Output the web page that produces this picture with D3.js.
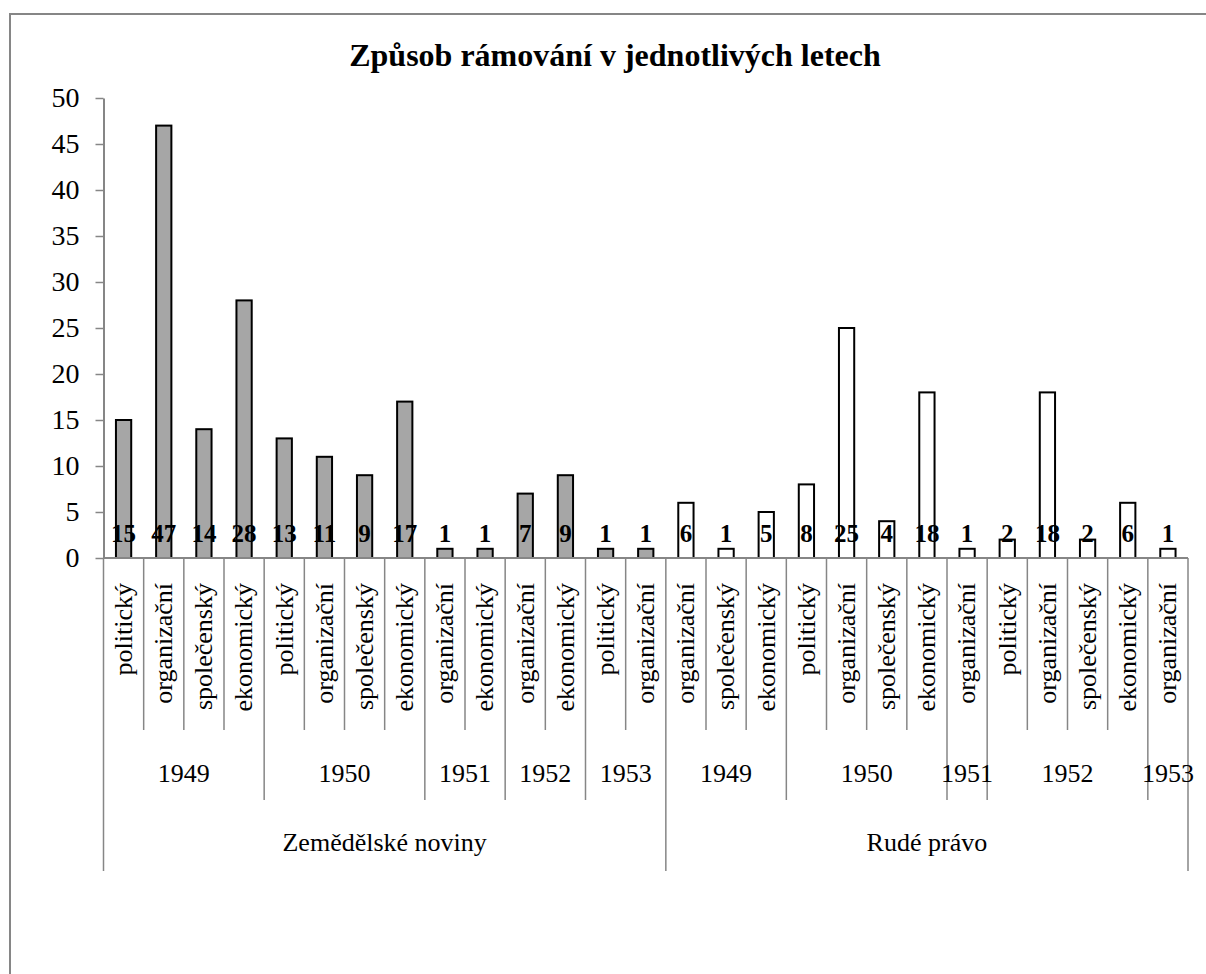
<!DOCTYPE html>
<html>
<head>
<meta charset="utf-8">
<script src="https://cdn.jsdelivr.net/npm/d3@7"></script>
<style>
	html, body { margin: 0; padding: 0; background: #fff; }
	svg { display: block; }
	svg text { font-family: "Liberation Serif", "DejaVu Serif", serif !important; fill: #000; }
</style>
</head>
<body>
<svg width="1206" height="974" font-family="Liberation Serif, serif"></svg>
<script>
(function() {
	"use strict"

	// one entry per bar, left to right
	var papers = ["Zemědělské noviny", "Zemědělské noviny", "Zemědělské noviny", "Zemědělské noviny",
			"Zemědělské noviny", "Zemědělské noviny", "Zemědělské noviny", "Zemědělské noviny",
			"Zemědělské noviny", "Zemědělské noviny", "Zemědělské noviny", "Zemědělské noviny",
			"Zemědělské noviny", "Zemědělské noviny",
			"Rudé právo", "Rudé právo", "Rudé právo", "Rudé právo", "Rudé právo", "Rudé právo",
			"Rudé právo", "Rudé právo", "Rudé právo", "Rudé právo", "Rudé právo", "Rudé právo", "Rudé právo"],
		years = ["1949", "1949", "1949", "1949", "1950", "1950", "1950", "1950", "1951", "1951",
			"1952", "1952", "1953", "1953",
			"1949", "1949", "1949", "1950", "1950", "1950", "1950", "1951", "1952", "1952", "1952", "1952", "1953"],
		categories = ["politický", "organizační", "společenský", "ekonomický",
			"politický", "organizační", "společenský", "ekonomický",
			"organizační", "ekonomický", "organizační", "ekonomický", "politický", "organizační",
			"organizační", "společenský", "ekonomický",
			"politický", "organizační", "společenský", "ekonomický",
			"organizační", "politický", "organizační", "společenský", "ekonomický", "organizační"],
		values = [15, 47, 14, 28, 13, 11, 9, 17, 1, 1, 7, 9, 1, 1,
			6, 1, 5, 8, 25, 4, 18, 1, 2, 18, 2, 6, 1],
		paperColors = { "Zemědělské noviny": "#a6a6a6", "Rudé právo": "#ffffff" },
		yTicks = [0, 5, 10, 15, 20, 25, 30, 35, 40, 45, 50],
		title = "Způsob rámování v jednotlivých letech";

	var svg = d3.select("svg"),
		axisColor = "#868686",
		left = 103.5, right = 1188, top = 98, base = 558,
		catLineEnd = 730, yearLineEnd = 800, paperLineEnd = 871;

	var x = d3.scaleBand().domain(d3.range(values.length)).range([left, right]).padding(0),
		y = d3.scaleLinear().domain([0, 50]).range([base, top]),
		barW = x.bandwidth() * 0.38;

	// chart frame
	svg.append("rect")
		.attr("x", 10).attr("y", 14)
		.attr("width", 1300).attr("height", 1100)
		.attr("fill", "none")
		.attr("stroke", axisColor)
		.attr("stroke-width", 2);

	svg.append("text")
		.attr("x", 615).attr("y", 66)
		.attr("text-anchor", "middle")
		.style("font-size", "32px")
		.style("font-weight", "bold")
		.text(title);

	// y axis
	var yAxis = svg.append("g")
		.attr("transform", "translate(" + left + ",0)")
		.call(d3.axisLeft(y).tickValues(yTicks).tickSize(8).tickPadding(16).tickSizeOuter(0));
	yAxis.attr("font-family", null);
	yAxis.select(".domain").attr("stroke", axisColor).attr("stroke-width", 2);
	yAxis.selectAll(".tick line").attr("stroke", axisColor).attr("stroke-width", 1.5);
	yAxis.selectAll(".tick text")
		.attr("fill", "#000")
		.style("font-size", "28px");

	// bars
	svg.selectAll("rect.bar")
		.data(values)
		.enter()
		.append("rect")
			.attr("class", "bar")
			.attr("x", function(d, i) {
				return x(i) + (x.bandwidth() - barW) / 2;
			})
			.attr("y", function(d) {
				return y(d);
			})
			.attr("width", barW)
			.attr("height", function(d) {
				return y(0) - y(d);
			})
			.attr("fill", function(d, i) {
				return paperColors[papers[i]];
			})
			.attr("stroke", "#000")
			.attr("stroke-width", 2);

	// value labels sit just above the base line
	svg.selectAll("text.val")
		.data(values)
		.enter()
		.append("text")
			.attr("class", "val")
			.attr("x", function(d, i) {
				return x(i) + x.bandwidth() / 2;
			})
			.attr("y", base - 16)
			.attr("text-anchor", "middle")
			.style("font-size", "25px")
			.style("font-weight", "bold")
			.text(function(d) { return d; });

	// x axis line
	svg.append("line")
		.attr("x1", left).attr("x2", right)
		.attr("y1", base).attr("y2", base)
		.attr("stroke", axisColor)
		.attr("stroke-width", 2);

	// runs of equal keys -> spans
	function spans(keyFn) {
		var out = [], i, k;
		for (i = 0; i < values.length; ++i) {
			k = keyFn(i);
			if (out.length && out[out.length - 1].key === k) {
				out[out.length - 1].end = i;
			} else {
				out.push({ key: k, start: i, end: i, label: null });
			}
		}
		return out;
	}

	var yearSpans = spans(function(i) { return papers[i] + "|" + years[i]; }),
		paperSpans = spans(function(i) { return papers[i]; });

	yearSpans.forEach(function(s) { s.label = years[s.start]; });
	paperSpans.forEach(function(s) { s.label = papers[s.start]; });

	// divider lines: every band edge, longer at year and paper edges
	var edges = d3.range(values.length + 1).map(function(i) {
		var end = catLineEnd;
		if (yearSpans.some(function(s) { return s.start === i || s.end + 1 === i; })) end = yearLineEnd;
		if (paperSpans.some(function(s) { return s.start === i || s.end + 1 === i; })) end = paperLineEnd;
		return { pos: i === values.length ? right : x(i), end: end };
	});

	svg.selectAll("line.div")
		.data(edges)
		.enter()
		.append("line")
			.attr("class", "div")
			.attr("x1", function(d) { return d.pos; })
			.attr("x2", function(d) { return d.pos; })
			.attr("y1", base)
			.attr("y2", function(d) { return d.end; })
			.attr("stroke", axisColor)
			.attr("stroke-width", 1.5);

	// category labels, rotated
	svg.selectAll("text.cat")
		.data(categories)
		.enter()
		.append("text")
			.attr("class", "cat")
			.attr("transform", function(d, i) {
				return "translate(" + (x(i) + x.bandwidth() / 2) + "," + (base + 25) + ") rotate(-90)";
			})
			.attr("dy", "0.32em")
			.attr("text-anchor", "end")
			.style("font-size", "26px")
			.text(function(d) { return d; });

	function spanCenter(s) {
		return (x(s.start) + x(s.end) + x.bandwidth()) / 2;
	}

	svg.selectAll("text.year")
		.data(yearSpans)
		.enter()
		.append("text")
			.attr("class", "year")
			.attr("x", spanCenter)
			.attr("y", 773)
			.attr("dy", "0.35em")
			.attr("text-anchor", "middle")
			.style("font-size", "26px")
			.text(function(d) { return d.label; });

	svg.selectAll("text.paper")
		.data(paperSpans)
		.enter()
		.append("text")
			.attr("class", "paper")
			.attr("x", spanCenter)
			.attr("y", 842)
			.attr("dy", "0.35em")
			.attr("text-anchor", "middle")
			.style("font-size", "26px")
			.text(function(d) { return d.label; });
})();
</script>
</body>
</html>
